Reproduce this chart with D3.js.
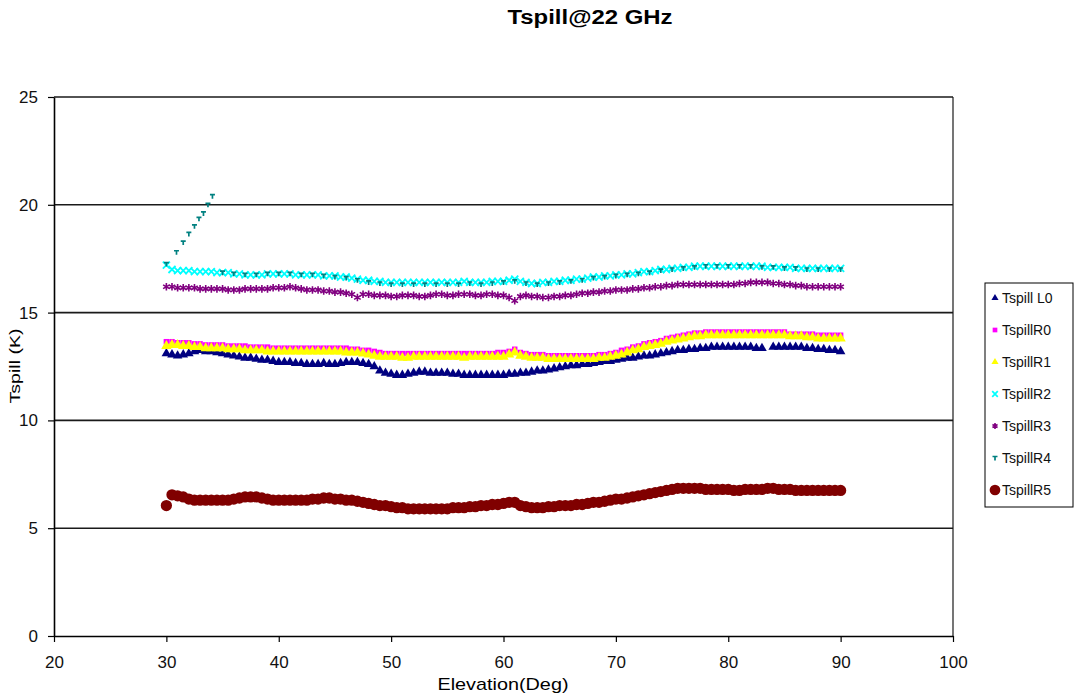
<!DOCTYPE html>
<html>
<head>
<meta charset="utf-8">
<script src="https://cdn.jsdelivr.net/npm/d3@7"></script>
<style>
  body { margin: 0; background: #fff; }
  svg { display: block; font-family: "Liberation Sans", Arial, sans-serif; }
</style>
</head>
<body>
<div class="vis-scatter"></div>
<script>
// elevation grid (deg) shared by most series
const elevation = [30,30.5,31,31.5,32,32.5,33,33.5,34,34.5,35,35.5,36,36.5,37,37.5,38,38.5,39,39.5,
  40,40.5,41,41.5,42,42.5,43,43.5,44,44.5,45,45.5,46,46.5,47,47.5,48,48.5,49,49.5,
  50,50.5,51,51.5,52,52.5,53,53.5,54,54.5,55,55.5,56,56.5,57,57.5,58,58.5,59,59.5,
  60,60.5,61,61.5,62,62.5,63,63.5,64,64.5,65,65.5,66,66.5,67,67.5,68,68.5,69,69.5,
  70,70.5,71,71.5,72,72.5,73,73.5,74,74.5,75,75.5,76,76.5,77,77.5,78,78.5,79,79.5,
  80,80.5,81,81.5,82,82.5,83,83.5,84,84.5,85,85.5,86,86.5,87,87.5,88,88.5,89,89.5,90];

const tspillL0 = [13.1,13.05,13.0,13.05,13.1,13.2,13.25,13.2,13.2,13.15,
  13.1,13.05,13.0,12.95,12.9,12.9,12.85,12.8,12.8,12.75,
  12.7,12.7,12.7,12.65,12.65,12.6,12.6,12.6,12.65,12.6,
  12.6,12.65,12.7,12.7,12.7,12.65,12.6,12.5,12.3,12.2,
  12.15,12.1,12.1,12.15,12.2,12.25,12.25,12.2,12.2,12.2,
  12.2,12.15,12.15,12.1,12.1,12.1,12.1,12.1,12.1,12.1,
  12.1,12.15,12.15,12.2,12.2,12.25,12.3,12.3,12.35,12.4,
  12.45,12.5,12.55,12.55,12.6,12.6,12.65,12.7,12.75,12.75,
  12.8,12.85,12.9,12.9,12.95,13.0,13.0,13.05,13.1,13.15,
  13.2,13.25,13.25,13.3,13.3,13.35,13.35,13.4,13.4,13.4,
  13.4,13.4,13.4,13.4,13.4,13.35,13.35,null,13.4,13.4,
  13.4,13.4,13.4,13.4,13.35,13.35,13.3,13.3,13.25,13.25,13.2];

const tspillR0 = [13.65,13.65,13.6,13.6,13.6,13.55,13.55,13.5,13.5,13.5,
  13.5,13.45,13.45,13.45,13.45,13.4,13.4,13.4,13.4,13.35,
  13.35,13.35,13.35,13.35,13.35,13.35,13.35,13.35,13.35,13.35,
  13.35,13.35,13.35,13.3,13.3,13.25,13.25,13.2,13.15,13.1,
  13.1,13.1,13.1,13.1,13.1,13.1,13.1,13.1,13.1,13.1,
  13.1,13.1,13.1,13.1,13.1,13.1,13.1,13.1,13.1,13.15,
  13.15,13.2,13.3,13.15,13.1,13.05,13.05,13.05,13.0,13.0,
  13.0,13.0,13.0,13.0,13.0,13.0,13.0,13.05,13.05,13.1,
  13.15,13.25,13.3,13.4,13.45,13.55,13.6,13.65,13.7,13.8,
  13.85,13.9,13.95,14.0,14.05,14.05,14.1,14.1,14.1,14.1,
  14.1,14.1,14.1,14.1,14.1,14.1,14.1,14.1,14.1,14.1,
  14.1,14.0,14.0,14.0,14.0,14.0,13.95,13.95,13.95,13.95,13.95];

const tspillR1 = [13.45,13.5,13.5,13.45,13.45,13.4,13.4,13.35,13.35,13.35,
  13.35,13.3,13.3,13.3,13.25,13.25,13.25,13.25,13.2,13.2,
  13.2,13.2,13.2,13.2,13.2,13.2,13.2,13.2,13.2,13.2,
  13.2,13.2,13.15,13.15,13.15,13.1,13.05,13.0,12.95,12.95,
  12.95,12.95,12.9,12.9,12.95,12.95,12.95,12.95,12.95,12.95,
  12.95,12.95,12.95,12.9,12.95,12.95,12.95,12.95,12.95,12.95,
  12.95,13.05,13.15,13.0,12.95,12.9,12.9,12.9,12.85,12.85,
  12.85,12.85,12.85,12.85,12.85,12.85,12.85,12.9,12.9,12.95,
  13.0,13.05,13.15,13.25,13.3,13.4,13.45,13.5,13.55,13.65,
  13.7,13.75,13.8,13.85,13.9,13.9,13.95,13.95,13.95,13.95,
  13.95,13.95,13.95,13.95,13.95,13.95,13.95,13.95,13.95,13.95,
  13.95,13.9,13.9,13.9,13.85,13.85,13.8,13.8,13.8,13.8,13.8];

const tspillR2 = [17.2,17.0,16.95,16.95,16.95,16.9,16.9,16.9,16.9,16.85,
  16.85,16.85,16.8,16.8,16.75,16.75,16.75,16.75,16.8,16.8,
  16.8,16.8,16.8,16.75,16.75,16.75,16.75,16.75,16.7,16.7,
  16.7,16.65,16.65,16.6,16.55,16.5,16.5,16.45,16.45,16.4,
  16.4,16.4,16.4,16.4,16.4,16.4,16.4,16.4,16.4,16.4,
  16.4,16.4,16.4,16.45,16.4,16.4,16.4,16.4,16.45,16.45,
  16.45,16.5,16.55,16.45,16.4,16.35,16.35,16.4,16.4,16.45,
  16.45,16.5,16.5,16.55,16.55,16.6,16.65,16.65,16.7,16.7,
  16.75,16.75,16.8,16.8,16.85,16.9,16.9,16.95,17.0,17.0,
  17.05,17.05,17.1,17.1,17.15,17.15,17.15,17.15,17.15,17.15,
  17.15,17.15,17.15,17.15,17.15,17.15,17.15,17.1,17.1,17.1,
  17.1,17.1,17.05,17.05,17.05,17.05,17.05,17.05,17.05,17.05,17.05];

const tspillR3 = [16.2,16.2,16.15,16.15,16.15,16.15,16.1,16.1,16.1,16.1,
  16.1,16.05,16.05,16.05,16.1,16.1,16.1,16.1,16.1,16.15,
  16.15,16.15,16.2,16.15,16.1,16.05,16.05,16.05,16.0,16.0,
  15.95,15.95,15.9,15.85,15.7,15.85,15.85,15.8,15.8,15.8,
  15.75,15.75,15.8,15.8,15.8,15.75,15.75,15.8,15.85,15.85,
  15.8,15.8,15.85,15.85,15.85,15.8,15.8,15.85,15.85,15.8,
  15.8,15.7,15.55,15.75,15.8,15.75,15.75,15.7,15.7,15.75,
  15.75,15.8,15.8,15.85,15.9,15.9,15.95,15.95,16.0,16.0,
  16.05,16.05,16.05,16.1,16.1,16.15,16.15,16.2,16.2,16.25,
  16.25,16.3,16.3,16.3,16.3,16.3,16.3,16.3,16.3,16.3,
  16.3,16.3,16.35,16.35,16.4,16.4,16.4,16.4,16.35,16.35,
  16.3,16.3,16.25,16.25,16.2,16.2,16.2,16.2,16.2,16.2,16.2];

const tspillR5 = [6.05,6.55,6.5,6.45,6.35,6.3,6.3,6.3,6.3,6.3,
  6.3,6.3,6.35,6.4,6.45,6.45,6.45,6.4,6.35,6.3,
  6.3,6.3,6.3,6.3,6.3,6.3,6.35,6.35,6.4,6.4,
  6.35,6.35,6.3,6.3,6.25,6.2,6.15,6.1,6.05,6.05,
  6.0,5.95,5.95,5.9,5.9,5.9,5.9,5.9,5.9,5.9,
  5.9,5.95,5.95,5.95,6.0,6.0,6.05,6.05,6.1,6.1,
  6.15,6.2,6.2,6.05,6.0,5.95,5.95,5.95,6.0,6.0,
  6.05,6.05,6.05,6.1,6.1,6.15,6.2,6.2,6.25,6.3,
  6.35,6.35,6.4,6.45,6.5,6.55,6.6,6.65,6.7,6.75,
  6.8,6.85,6.85,6.85,6.85,6.85,6.8,6.8,6.8,6.8,
  6.8,6.75,6.75,6.8,6.8,6.8,6.8,6.85,6.85,6.8,
  6.8,6.8,6.75,6.75,6.75,6.75,6.75,6.75,6.75,6.75,6.75];

// R4 has its own elevations (the odd rising run near 30-34 deg)
const r4Elevation = [30,30.9,31.5,32,32.5,32.9,33.3,33.7,34.1,
  35,36,37,38,39,40,41,42,43,44,45,46,47,48,49,50,51,52,53,54,
  55,56,57,58,59,60,61,62,63,64,65,66,67,68,69,70,71,72,73,74,
  75,76,77,78,79,80,81,82,83,84,85,86,87,88,89,90];
const tspillR4 = [17.25,17.8,18.25,18.65,19.0,19.35,19.6,20.0,20.4,
  16.85,16.8,16.75,16.75,16.8,16.8,16.8,16.75,16.75,16.7,
  16.65,16.6,16.5,16.4,16.35,16.3,16.3,16.3,16.3,16.3,
  16.3,16.3,16.35,16.3,16.35,16.4,16.45,16.35,16.3,16.35,
  16.4,16.45,16.5,16.6,16.65,16.7,16.75,16.8,16.85,16.95,
  17.0,17.05,17.1,17.15,17.15,17.15,17.15,17.15,17.1,17.1,
  17.05,17.05,17.0,17.0,17.0,17.0];

const seriesNames = ['Tspill L0', 'TspillR0', 'TspillR1', 'TspillR2', 'TspillR3', 'TspillR4', 'TspillR5'];
const xTicks = [20, 30, 40, 50, 60, 70, 80, 90, 100];
const yTicks = [0, 5, 10, 15, 20, 25];

const W = 1077, H = 696;
const plot = { left: 54, right: 953, top: 97, bottom: 636 };

const svg = d3.select('.vis-scatter').append('svg').attr('width', W).attr('height', H);

const x = d3.scaleLinear().domain([20, 100]).range([plot.left, plot.right]);
const y = d3.scaleLinear().domain([0, 25]).range([plot.bottom, plot.top]);

// gridlines
svg.append('g')
  .selectAll('line')
  .data(yTicks.filter((t) => t > 0))
  .enter()
  .append('line')
  .attr('x1', plot.left).attr('x2', plot.right)
  .attr('y1', (d) => y(d)).attr('y2', (d) => y(d))
  .attr('stroke', '#1a1a1a')
  .attr('stroke-width', 1.6);

// right border
svg.append('line')
  .attr('x1', plot.right).attr('x2', plot.right)
  .attr('y1', plot.top).attr('y2', plot.bottom)
  .attr('stroke', '#1a1a1a').attr('stroke-width', 1.2);

const yAxis = svg.append('g')
  .attr('transform', 'translate(' + plot.left + ',0)')
  .call(d3.axisLeft(y).tickValues(yTicks).tickSize(6).tickPadding(10).tickSizeOuter(0));
const xAxis = svg.append('g')
  .attr('transform', 'translate(0,' + plot.bottom + ')')
  .call(d3.axisBottom(x).tickValues(xTicks).tickSize(6).tickPadding(14).tickSizeOuter(0));

[yAxis, xAxis].forEach((g) => {
  g.select('.domain').attr('stroke', '#000').attr('stroke-width', 1.6);
  g.selectAll('.tick line').attr('stroke', '#000').attr('stroke-width', 1.2);
  g.selectAll('.tick text')
    .attr('fill', '#111')
    .style('font-size', '17px')
    .style('font-family', '"Liberation Sans", Arial, sans-serif');
});

// markers
const tri = d3.symbol().type(d3.symbolTriangle).size(40)();
const sq = d3.symbol().type(d3.symbolSquare).size(30)();
const tri2 = d3.symbol().type(d3.symbolTriangle).size(46)();
const times = d3.symbol().type(d3.symbolTimes).size(34)();
const aster = d3.symbol().type(d3.symbolAsterisk).size(40)();
const circ = d3.symbol().type(d3.symbolCircle).size(100)();
const tee = 'M-2.5,-1.5H2.5M0,-1.5V2.5';

const styles = [
  { path: tri, fill: '#000080', stroke: 'none' },
  { path: sq, fill: '#ff00ff', stroke: 'none' },
  { path: tri2, fill: '#ffff00', stroke: 'none' },
  { path: times, fill: 'none', stroke: '#00ffff', sw: 1.8 },
  { path: aster, fill: 'none', stroke: '#800080', sw: 1.6 },
  { path: tee, fill: 'none', stroke: '#008080', sw: 1.7 },
  { path: circ, fill: '#800000', stroke: 'none' }
];
const legendPaths = [
  d3.symbol().type(d3.symbolTriangle).size(22)(),
  d3.symbol().type(d3.symbolSquare).size(22)(),
  d3.symbol().type(d3.symbolTriangle).size(22)(),
  d3.symbol().type(d3.symbolTimes).size(22)(),
  d3.symbol().type(d3.symbolAsterisk).size(24)(),
  tee,
  d3.symbol().type(d3.symbolCircle).size(90)()
];

const mainSeries = [tspillL0, tspillR0, tspillR1, tspillR2, tspillR3, null, tspillR5];

const seriesData = seriesNames.map((name, i) => {
  if (i === 5) return r4Elevation.map((e, j) => ({ e, v: tspillR4[j] }));
  return elevation.map((e, j) => ({ e, v: mainSeries[i][j] })).filter((d) => d.v != null);
});

seriesData.forEach((pts, i) => {
  const s = styles[i];
  svg.append('g')
    .selectAll('path')
    .data(pts)
    .enter()
    .append('path')
    .attr('d', s.path)
    .attr('transform', (d) => 'translate(' + x(d.e) + ',' + y(d.v) + ')')
    .attr('fill', s.fill)
    .attr('stroke', s.stroke)
    .attr('stroke-width', s.sw || 0);
});

// title and axis labels
svg.append('text')
  .attr('x', 590).attr('y', 24)
  .attr('text-anchor', 'middle')
  .style('font-size', '20px').style('font-weight', 'bold')
  .attr('textLength', 165).attr('lengthAdjust', 'spacingAndGlyphs')
  .text('Tspill@22 GHz');

svg.append('text')
  .attr('x', 503).attr('y', 690)
  .attr('text-anchor', 'middle')
  .style('font-size', '17px')
  .attr('textLength', 131).attr('lengthAdjust', 'spacingAndGlyphs')
  .text('Elevation(Deg)');

svg.append('text')
  .attr('transform', 'translate(20,366) rotate(-90)')
  .attr('text-anchor', 'middle')
  .style('font-size', '14px')
  .attr('textLength', 75).attr('lengthAdjust', 'spacingAndGlyphs')
  .text('Tspill (K)');

// legend
const legend = svg.append('g').attr('transform', 'translate(985,283)');
legend.append('rect')
  .attr('width', 88).attr('height', 224)
  .attr('fill', '#fff').attr('stroke', '#000').attr('stroke-width', 1);

const legendG = legend.selectAll('.legend')
  .data(seriesNames)
  .enter()
  .append('g')
  .attr('class', 'legend')
  .attr('transform', (d, i) => 'translate(0,' + (15 + i * 32) + ')');

legendG.append('path')
  .attr('d', (d, i) => legendPaths[i])
  .attr('transform', 'translate(10,0)')
  .attr('fill', (d, i) => styles[i].fill)
  .attr('stroke', (d, i) => styles[i].stroke)
  .attr('stroke-width', (d, i) => styles[i].sw || 0);

legendG.append('text')
  .attr('x', 17).attr('y', 5)
  .style('font-size', '14px')
  .attr('fill', '#111')
  .text((d) => d);
</script>
</body>
</html>
